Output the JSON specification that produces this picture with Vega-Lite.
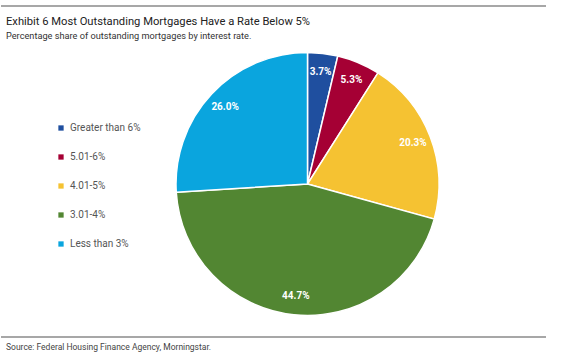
{
  "$schema": "https://vega.github.io/schema/vega-lite/v6.json",
  "background": "white",
  "padding": {"left": 0, "top": 5, "right": 21, "bottom": 6},
  "config": {
    "font": "Roboto",
    "view": {"stroke": "#8a8a8a", "strokeWidth": 1.5, "strokeDash": [545, 331]}
  },
  "title": {
    "text": "Source: Federal Housing Finance Agency, Morningstar.",
    "orient": "bottom",
    "anchor": "start",
    "frame": "group",
    "fontSize": 8.5,
    "fontWeight": "normal",
    "color": "#444444",
    "offset": 5,
    "dx": 5
  },
  "vconcat": [
    {
      "width": 545,
      "height": 331,
      "view": {"stroke": "#8a8a8a", "strokeWidth": 1.5, "strokeDash": [545, 331], "strokeOpacity": 1},
      "title": {
        "text": "Exhibit 6 Most Outstanding Mortgages Have a Rate Below 5%",
        "subtitle": "Percentage share of outstanding mortgages by interest rate.",
        "anchor": "start",
        "frame": "group",
        "offset": -35,
        "dx": 5,
        "fontSize": 11.2,
        "fontWeight": "normal",
        "color": "#222222",
        "subtitleFontSize": 9.2,
        "subtitleColor": "#333333",
        "subtitlePadding": 5
      },
      "data": {
        "values": [
          {"rate": "Greater than 6%", "share": 3.7, "label": "3.7%", "idx": 1},
          {"rate": "5.01-6%", "share": 5.3, "label": "5.3%", "idx": 2},
          {"rate": "4.01-5%", "share": 20.3, "label": "20.3%", "idx": 3},
          {"rate": "3.01-4%", "share": 44.7, "label": "44.7%", "idx": 4},
          {"rate": "Less than 3%", "share": 26.0, "label": "26.0%", "idx": 5}
        ]
      },
      "encoding": {
        "theta": {"field": "share", "type": "quantitative", "stack": true},
        "order": {"field": "idx", "type": "quantitative"}
      },
      "layer": [
        {
          "mark": {"type": "arc", "radius": 131.5, "stroke": "white", "strokeWidth": 1.5, "xOffset": 34, "yOffset": 12.5},
          "encoding": {
            "color": {
              "field": "rate",
              "type": "nominal",
              "sort": ["Greater than 6%", "5.01-6%", "4.01-5%", "3.01-4%", "Less than 3%"],
              "scale": {
                "domain": ["Greater than 6%", "5.01-6%", "4.01-5%", "3.01-4%", "Less than 3%"],
                "range": ["#1f4f9f", "#a50034", "#f5c232", "#528632", "#0aa5de"]
              },
              "legend": {
                "orient": "none",
                "legendX": 55,
                "legendY": 117,
                "title": null,
                "symbolType": "square",
                "symbolSize": 28,
                "symbolStrokeWidth": 0,
                "labelFontSize": 10,
                "labelColor": "#555555",
                "rowPadding": 19
              }
            }
          }
        },
        {
          "mark": {"type": "text", "radius": 113, "xOffset": 34, "yOffset": 12.5, "fill": "white", "fontWeight": "bold", "fontSize": 10},
          "encoding": {
            "text": {"field": "label", "type": "nominal"}
          }
        }
      ]
    }
  ]
}
